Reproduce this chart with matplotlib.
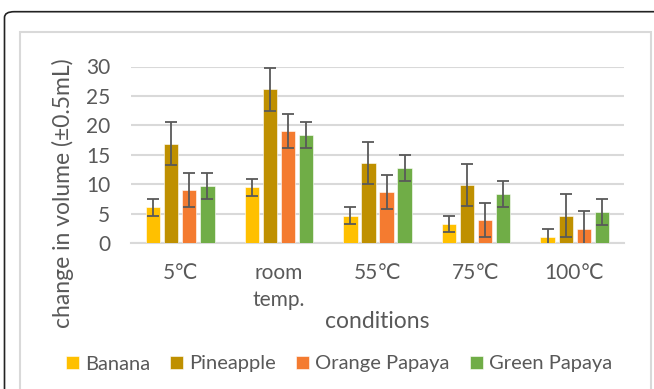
import numpy as np
import matplotlib
matplotlib.use('Agg')
import matplotlib.pyplot as plt
from matplotlib.patches import FancyBboxPatch, Rectangle

# Data
conditions = ['5\u2103', 'room\ntemp.', '55\u2103', '75\u2103', '100\u2103']
series_names = ['Banana', 'Pineapple', 'Orange Papaya', 'Green Papaya']
banana = [6.1, 9.5, 4.7, 3.3, 1.1]
pineapple = [16.9, 26.1, 13.6, 9.9, 4.7]
orange_papaya = [9.1, 19.1, 8.7, 3.9, 2.5]
green_papaya = [9.8, 18.3, 12.8, 8.3, 5.3]
errors = [1.4, 3.6, 2.9, 2.2]
colors = ['#FFC000', '#BF9000', '#F47B30', '#70AD47']

text_col = '#595959'
plt.rcParams['font.family'] = ['Lato', 'DejaVu Sans']

fig = plt.figure(figsize=(6.54, 3.89), dpi=100)

# frame around the chart (cropped at right and bottom)
fig.patches.append(FancyBboxPatch((4.5 / 654, -0.2), 1.2, 1 - 11.7 / 389 + 0.2,
                                  boxstyle='round,pad=0,rounding_size=0.015',
                                  transform=fig.transFigure, fill=False,
                                  edgecolor='#222222', linewidth=1.2))
fig.patches.append(Rectangle((20 / 654, -0.1), 631 / 654, 1 - 32 / 389 + 0.1,
                             transform=fig.transFigure, fill=False,
                             edgecolor='#D9D9D9', linewidth=1.5))

ax = fig.add_axes([131 / 654, 1 - 243.3 / 389, 493 / 654, 176.8 / 389])

x = np.arange(len(conditions))
values = [banana, pineapple, orange_papaya, green_papaya]
step = 0.183
width = 0.145
for i, (name, vals) in enumerate(zip(series_names, values)):
    pos = x + (i - 1.5) * step
    ax.bar(pos, vals, width, color=colors[i], label=name, zorder=3,
           edgecolor='white', linewidth=0.4)
    ax.errorbar(pos, vals, yerr=errors[i], fmt='none', ecolor=text_col,
                elinewidth=1.3, capsize=4.5, capthick=1.3, zorder=4)

ax.set_xlim(-0.5, len(conditions) - 0.5)
ax.set_ylim(0, 30)
ax.set_yticks(range(0, 31, 5))
ax.yaxis.grid(True, color='#D9D9D9', linewidth=1.5, zorder=0)
ax.set_axisbelow(True)
for s in ['top', 'right', 'left']:
    ax.spines[s].set_visible(False)
ax.spines['bottom'].set_color('#D9D9D9')
ax.spines['bottom'].set_linewidth(1.5)
ax.tick_params(axis='both', length=0, labelsize=15, colors=text_col)
ax.tick_params(axis='y', pad=15)
ax.tick_params(axis='x', pad=14)
ax.set_xticks(x)
ax.set_xticklabels(conditions, linespacing=1.45)

ax.set_ylabel('change in volume (\u00b10.5mL)', fontsize=16.5, color=text_col, va='center')
ax.yaxis.set_label_coords(-0.138, 0.285)
ax.set_xlabel('conditions', fontsize=16.5, color=text_col, va='center')
ax.xaxis.set_label_coords(0.5, -0.445)

leg = fig.legend(loc='center', bbox_to_anchor=(339 / 654, 1 - 364 / 389), ncol=4,
                 frameon=False, fontsize=14.5, handlelength=0.65, handleheight=0.65,
                 handletextpad=0.3, columnspacing=1.0, borderpad=0)
for t in leg.get_texts():
    t.set_color(text_col)

fig.savefig('out.png', dpi=100)
